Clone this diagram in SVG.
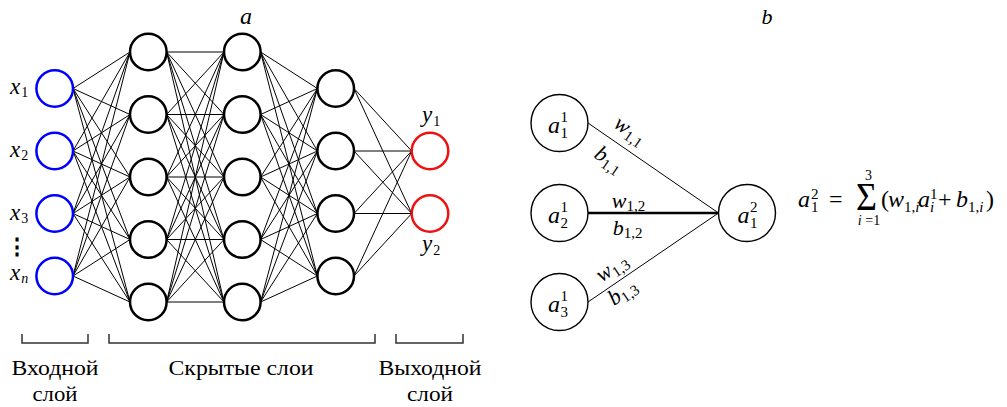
<svg xmlns="http://www.w3.org/2000/svg" width="1007" height="407" viewBox="0 0 1007 407">
<defs>
<circle id="nd" r="18.3"/>
<circle id="rnd" r="28.5"/>
</defs>
<g id="connectors" fill="none" stroke="#000" stroke-width="1">
<path d="M73 88.5L130 52M73 88.5L130 114.5M73 88.5L130 177M73 88.5L130 239.5M73 88.5L130 302M73 151L130 52M73 151L130 114.5M73 151L130 177M73 151L130 239.5M73 151L130 302M73 213.5L130 52M73 213.5L130 114.5M73 213.5L130 177M73 213.5L130 239.5M73 213.5L130 302M73 276L130 52M73 276L130 114.5M73 276L130 177M73 276L130 239.5M73 276L130 302"/>
<path d="M166.6 52L224 52M166.6 52L224 114.5M166.6 52L224 177M166.6 52L224 239.5M166.6 52L224 302M166.6 114.5L224 52M166.6 114.5L224 114.5M166.6 114.5L224 177M166.6 114.5L224 239.5M166.6 114.5L224 302M166.6 177L224 52M166.6 177L224 114.5M166.6 177L224 177M166.6 177L224 239.5M166.6 177L224 302M166.6 239.5L224 52M166.6 239.5L224 114.5M166.6 239.5L224 177M166.6 239.5L224 239.5M166.6 239.5L224 302M166.6 302L224 52M166.6 302L224 114.5M166.6 302L224 177M166.6 302L224 239.5M166.6 302L224 302"/>
<path d="M260.6 52L317.4 88.5M260.6 52L317.4 151M260.6 52L317.4 213.5M260.6 52L317.4 276M260.6 114.5L317.4 88.5M260.6 114.5L317.4 151M260.6 114.5L317.4 213.5M260.6 114.5L317.4 276M260.6 177L317.4 88.5M260.6 177L317.4 151M260.6 177L317.4 213.5M260.6 177L317.4 276M260.6 239.5L317.4 88.5M260.6 239.5L317.4 151M260.6 239.5L317.4 213.5M260.6 239.5L317.4 276M260.6 302L317.4 88.5M260.6 302L317.4 151M260.6 302L317.4 213.5M260.6 302L317.4 276"/>
<path d="M354 88.5L411.7 151M354 88.5L411.7 213.5M354 151L411.7 151M354 151L411.7 213.5M354 213.5L411.7 151M354 213.5L411.7 213.5M354 276L411.7 151M354 276L411.7 213.5"/>
<path d="M588 123L718.5 213M588 302L718.5 213"/>
<path stroke-width="2.5" d="M588 213L718.5 213"/>
</g>
<g id="input-layer">
<g fill="#fff" stroke="#0000ff" stroke-width="2.5">
<use href="#nd" x="54.7" y="88.5"/>
<use href="#nd" x="54.7" y="151"/>
<use href="#nd" x="54.7" y="213.5"/>
<use href="#nd" x="54.7" y="276"/>
</g>
<text style="font-family:'Liberation Serif',serif;font-style:italic;font-size:23px" x="10" y="93.5">x<tspan style="font-size:14px;font-style:normal" dx="1" dy="3">1</tspan></text>
<text style="font-family:'Liberation Serif',serif;font-style:italic;font-size:23px" x="10" y="157">x<tspan style="font-size:14px;font-style:normal" dx="1" dy="3">2</tspan></text>
<text style="font-family:'Liberation Serif',serif;font-style:italic;font-size:23px" x="10" y="219.5">x<tspan style="font-size:14px;font-style:normal" dx="1" dy="3">3</tspan></text>
<text style="font-family:'DejaVu Serif',serif;font-size:22px;font-weight:bold" x="17" y="254" text-anchor="middle">⋮</text>
<text style="font-family:'Liberation Serif',serif;font-style:italic;font-size:23px" x="10" y="280">x<tspan style="font-size:14px" dx="1" dy="3">n</tspan></text>
</g>
<g id="hidden-1" fill="#fff" stroke="#000" stroke-width="2.5">
<use href="#nd" x="148.3" y="52"/>
<use href="#nd" x="148.3" y="114.5"/>
<use href="#nd" x="148.3" y="177"/>
<use href="#nd" x="148.3" y="239.5"/>
<use href="#nd" x="148.3" y="302"/>
</g>
<g id="hidden-2">
<g fill="#fff" stroke="#000" stroke-width="2.5">
<use href="#nd" x="242.3" y="52"/>
<use href="#nd" x="242.3" y="114.5"/>
<use href="#nd" x="242.3" y="177"/>
<use href="#nd" x="242.3" y="239.5"/>
<use href="#nd" x="242.3" y="302"/>
</g>
<text style="font-family:'Liberation Serif',serif;font-style:italic;font-size:24px" x="246" y="23.5" text-anchor="middle">a</text>
</g>
<g id="hidden-3" fill="#fff" stroke="#000" stroke-width="2.5">
<use href="#nd" x="335.7" y="88.5"/>
<use href="#nd" x="335.7" y="151"/>
<use href="#nd" x="335.7" y="213.5"/>
<use href="#nd" x="335.7" y="276"/>
</g>
<g id="output-layer">
<g fill="#fff" stroke="#ee1111" stroke-width="2.5">
<use href="#nd" x="430" y="151"/>
<use href="#nd" x="430" y="213.5"/>
</g>
<text style="font-family:'Liberation Serif',serif;font-style:italic;font-size:23px" x="422" y="122">y<tspan style="font-size:14px;font-style:normal" dx="1" dy="4">1</tspan></text>
<text style="font-family:'Liberation Serif',serif;font-style:italic;font-size:23px" x="422" y="251">y<tspan style="font-size:14px;font-style:normal" dx="1" dy="4">2</tspan></text>
</g>
<g id="layer-brackets">
<path fill="none" stroke="#333" stroke-width="1.5" d="M22 334V343H88V334M109 334V343H375V334M396 334V343H463V334"/>
<text style="font-family:'Liberation Serif',serif;font-size:22px" x="55" y="375" text-anchor="middle" textLength="87" lengthAdjust="spacingAndGlyphs">Входной</text>
<text style="font-family:'Liberation Serif',serif;font-size:22px" x="55" y="401" text-anchor="middle" textLength="45" lengthAdjust="spacingAndGlyphs">слой</text>
<text style="font-family:'Liberation Serif',serif;font-size:22px" x="241" y="375" text-anchor="middle" textLength="145" lengthAdjust="spacingAndGlyphs">Скрытые слои</text>
<text style="font-family:'Liberation Serif',serif;font-size:22px" x="430" y="375" text-anchor="middle" textLength="103" lengthAdjust="spacingAndGlyphs">Выходной</text>
<text style="font-family:'Liberation Serif',serif;font-size:22px" x="430" y="401" text-anchor="middle" textLength="46" lengthAdjust="spacingAndGlyphs">слой</text>
</g>
<text style="font-family:'Liberation Serif',serif;font-style:italic;font-size:22px" x="767" y="24" text-anchor="middle">b</text>
<g id="a11">
<use href="#rnd" x="559.5" y="123" fill="#fff" stroke="#000" stroke-width="1.4"/>
<text style="font-family:'Liberation Serif',serif;font-style:italic;font-size:24px" x="548" y="133.3">a</text>
<text style="font-family:'Liberation Serif',serif;font-size:15px" x="560.5" y="121.5">1</text>
<text style="font-family:'Liberation Serif',serif;font-size:15px" x="560.5" y="137.5">1</text>
</g>
<g id="a21">
<use href="#rnd" x="559.5" y="213" fill="#fff" stroke="#000" stroke-width="1.4"/>
<text style="font-family:'Liberation Serif',serif;font-style:italic;font-size:24px" x="548" y="223.3">a</text>
<text style="font-family:'Liberation Serif',serif;font-size:15px" x="560.5" y="211.5">1</text>
<text style="font-family:'Liberation Serif',serif;font-size:15px" x="560.5" y="227.5">2</text>
</g>
<g id="a31">
<use href="#rnd" x="559.5" y="302" fill="#fff" stroke="#000" stroke-width="1.4"/>
<text style="font-family:'Liberation Serif',serif;font-style:italic;font-size:24px" x="548" y="312.3">a</text>
<text style="font-family:'Liberation Serif',serif;font-size:15px" x="560.5" y="300.5">1</text>
<text style="font-family:'Liberation Serif',serif;font-size:15px" x="560.5" y="316.5">3</text>
</g>
<g id="a12">
<use href="#rnd" x="747" y="213" fill="#fff" stroke="#000" stroke-width="1.4"/>
<text style="font-family:'Liberation Serif',serif;font-style:italic;font-size:24px" x="737.5" y="223.3">a</text>
<text style="font-family:'Liberation Serif',serif;font-size:15px" x="750" y="211.5">2</text>
<text style="font-family:'Liberation Serif',serif;font-size:15px" x="750" y="227.5">1</text>
</g>
<g id="edge-labels">
<g transform="translate(588,123) rotate(34.4)">
<text style="font-family:'Liberation Serif',serif;font-style:italic;font-size:22px" x="39" y="-11" text-anchor="middle">w<tspan style="font-style:normal;font-size:15px" dy="4">1,1</tspan></text>
<text style="font-family:'Liberation Serif',serif;font-style:italic;font-size:22px" x="38" y="25" text-anchor="middle">b<tspan style="font-style:normal;font-size:15px" dy="4">1,1</tspan></text>
</g>
<text style="font-family:'Liberation Serif',serif;font-style:italic;font-size:22px" x="628.5" y="208" text-anchor="middle">w<tspan style="font-style:normal;font-size:15px" dy="3">1,2</tspan></text>
<text style="font-family:'Liberation Serif',serif;font-style:italic;font-size:22px" x="627.5" y="235" text-anchor="middle">b<tspan style="font-style:normal;font-size:15px" dy="3">1,2</tspan></text>
<g transform="translate(588,302) rotate(-34.6)">
<text style="font-family:'Liberation Serif',serif;font-style:italic;font-size:22px" x="39" y="-8" text-anchor="middle">w<tspan style="font-style:normal;font-size:15px" dy="4">1,3</tspan></text>
<text style="font-family:'Liberation Serif',serif;font-style:italic;font-size:22px" x="34" y="18" text-anchor="middle">b<tspan style="font-style:normal;font-size:15px" dy="4">1,3</tspan></text>
</g>
</g>
<g id="formula">
<text style="font-family:'Liberation Serif',serif;font-style:italic;font-size:24px" x="798" y="207">a</text>
<text style="font-family:'Liberation Serif',serif;font-size:15px" x="811" y="199">2</text>
<text style="font-family:'Liberation Serif',serif;font-size:15px" x="811" y="212">1</text>
<text style="font-family:'Liberation Serif',serif;font-size:24px" x="829" y="207">=</text>
<text style="font-family:'Liberation Serif',serif;font-size:36px" x="856" y="210" transform="translate(856,210) scale(1,1.1) translate(-856,-210)">Σ</text>
<text style="font-family:'Liberation Serif',serif;font-size:14px" x="868.5" y="180" text-anchor="middle">3</text>
<text style="font-family:'Liberation Serif',serif;font-size:14px" x="869" y="225" text-anchor="middle"><tspan style="font-style:italic">i</tspan> =1</text>
<text style="font-family:'Liberation Serif',serif;font-size:24px" x="881" y="207">(</text>
<text style="font-family:'Liberation Serif',serif;font-style:italic;font-size:24px" x="888" y="207">w</text>
<text style="font-family:'Liberation Serif',serif;font-size:15px" x="904" y="212">1,<tspan style="font-style:italic">i</tspan></text>
<text style="font-family:'Liberation Serif',serif;font-style:italic;font-size:24px" x="918" y="207">a</text>
<text style="font-family:'Liberation Serif',serif;font-size:15px" x="930" y="199">1</text>
<text style="font-family:'Liberation Serif',serif;font-style:italic;font-size:15px" x="930" y="212">i</text>
<text style="font-family:'Liberation Serif',serif;font-size:24px" x="938" y="207">+</text>
<text style="font-family:'Liberation Serif',serif;font-style:italic;font-size:24px" x="956" y="207">b</text>
<text style="font-family:'Liberation Serif',serif;font-size:15px" x="968" y="212">1,<tspan style="font-style:italic">i</tspan></text>
<text style="font-family:'Liberation Serif',serif;font-size:24px" x="986" y="207">)</text>
</g>
</svg>
